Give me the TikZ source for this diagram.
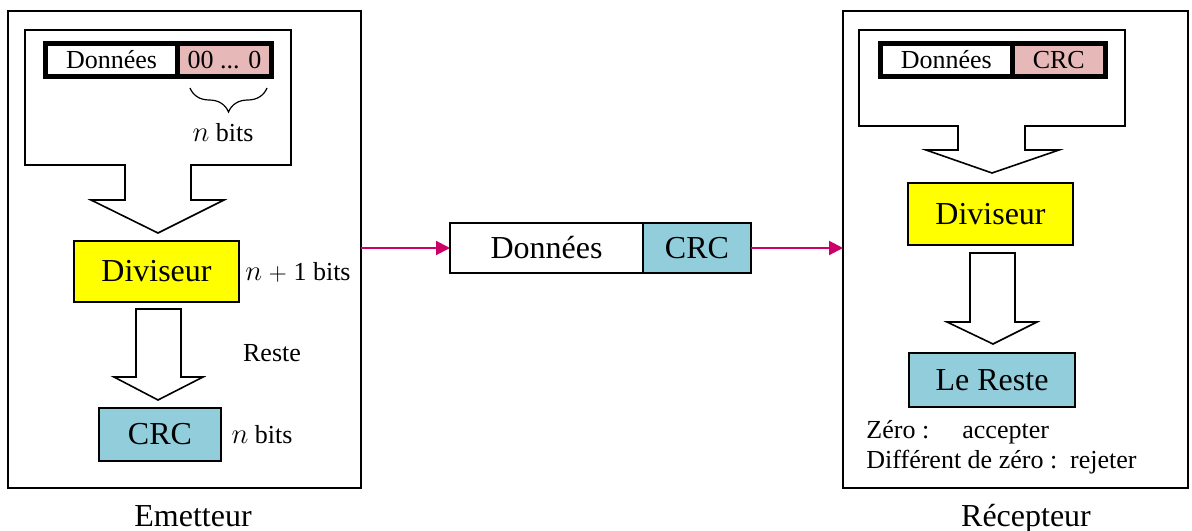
\documentclass[tikz,border=0pt]{standalone}
\usepackage{fontspec}
\setmainfont{Liberation Serif}
\usetikzlibrary{arrows.meta,decorations.pathreplacing}

\definecolor{divyellow}{RGB}{255,255,0}
\definecolor{crcblue}{RGB}{146,205,220}
\definecolor{padpink}{RGB}{230,185,184}
\definecolor{linkpink}{RGB}{204,0,102}

% italic bit-count variable, set a little larger than the surrounding text
\newcommand{\bitvar}{{\fontsize{15}{15}\selectfont$n$}}

\begin{document}
\begin{tikzpicture}[x=0.5pt,y=-0.5pt,
  outerbox/.style={draw, line width=1pt, inner sep=0pt, outer sep=0pt},
  stagebox/.style={draw, line width=1pt, inner sep=0pt, outer sep=0pt, font=\fontsize{16}{19}\selectfont},
  cellbox/.style={draw, line width=2.5pt, inner sep=0pt, outer sep=0pt, minimum height=16.5pt, font=\fontsize{13}{15}\selectfont},
  framecell/.style={draw, line width=0.9pt, inner sep=0pt, outer sep=0pt, minimum height=25pt, font=\fontsize{16}{19}\selectfont},
  blockarrow/.style={draw, line width=0.8pt, fill=white, line join=miter},
  note/.style={inner sep=0pt, font=\fontsize{13}{15}\selectfont},
  caption/.style={inner sep=0pt, anchor=base, font=\fontsize{16}{19}\selectfont},
  link/.style={draw=linkpink, line width=1pt, -{Triangle[length=7pt, width=7pt]}}
]
\useasboundingbox (0,0) rectangle (1192,530);

% ---------- sender ----------
\node[outerbox, minimum width=176.5pt, minimum height=238.5pt] (emet) at (184.5,249.5) {};

% frame holder with its downward block arrow
\draw[blockarrow] (25,30) -- (291,30) -- (291,165) -- (191,165) -- (191,200)
  -- (224,200) -- (158,233) -- (91,200) -- (125,200) -- (125,165) -- (25,165) -- cycle;

\node[cellbox, minimum width=66pt] (pdata) at (111.5,60) {Données};
\node[cellbox, minimum width=47pt, fill=padpink, anchor=west] (ppad) at (pdata.east) {00 ... 0};

\coordinate (braceL) at (190,88);
\coordinate (braceR) at (267,88);
\draw[line width=0.6pt, decorate, decoration={brace, mirror, amplitude=12pt}] (braceL) -- (braceR);
\node[note] (padbits) at (223,133) {\bitvar{} bits};

\node[stagebox, fill=divyellow, minimum width=82.5pt, minimum height=30.5pt] (ediv) at (156.5,271.5) {Diviseur};
\node[note] (divbits) at (298,272) {\bitvar{} $+$ 1 bits};

\draw[blockarrow] (136,309) -- (181,309) -- (181,377) -- (203,377) -- (158,400)
  -- (114,377) -- (136,377) -- cycle;
\node[note] (reste) at (272,353) {Reste};

\node[stagebox, fill=crcblue, minimum width=61pt, minimum height=26.5pt] (ecrc) at (160,434.5) {CRC};
\node[note] (crcbits) at (262,435) {\bitvar{} bits};

\node[caption] (emetlbl) at (193,526) {Emetteur};

% ---------- transmitted frame ----------
\node[framecell, minimum width=96.5pt] (mdata) at (546.5,248) {Données};
\node[framecell, minimum width=54pt, fill=crcblue, anchor=west] (mcrc) at (mdata.east) {CRC};

% ---------- receiver ----------
\node[outerbox, minimum width=172.5pt, minimum height=238.5pt] (recep) at (1015.5,249.5) {};

\draw[blockarrow] (859,30) -- (1125,30) -- (1125,126) -- (1025,126) -- (1025,150)
  -- (1059,150) -- (992,173) -- (926,150) -- (958,150) -- (958,126) -- (859,126) -- cycle;

\node[cellbox, minimum width=65.75pt] (rdata) at (946.25,60) {Données};
\node[cellbox, minimum width=46.75pt, fill=padpink, anchor=west] (rcrc) at (rdata.east) {CRC};

\node[stagebox, fill=divyellow, minimum width=82.5pt, minimum height=31pt] (rdiv) at (990.5,214) {Diviseur};

\draw[blockarrow] (970,253) -- (1015,253) -- (1015,322) -- (1037,322) -- (993,344)
  -- (947,322) -- (970,322) -- cycle;

\node[stagebox, fill=crcblue, minimum width=83pt, minimum height=27pt] (rreste) at (992,380) {Le Reste};

\node[note, anchor=west, align=left] (verdict) at (866,447)
  {\makebox[48pt][l]{Zéro :}accepter\\Différent de zéro :\ \ rejeter};

\node[caption] (receplbl) at (1026,526) {Récepteur};

% ---------- links ----------
\draw[link] (emet.east |- mdata.west) -- (mdata.west);
\draw[link] (mcrc.east) -- (recep.west |- mcrc.east);
\end{tikzpicture}
\end{document}
